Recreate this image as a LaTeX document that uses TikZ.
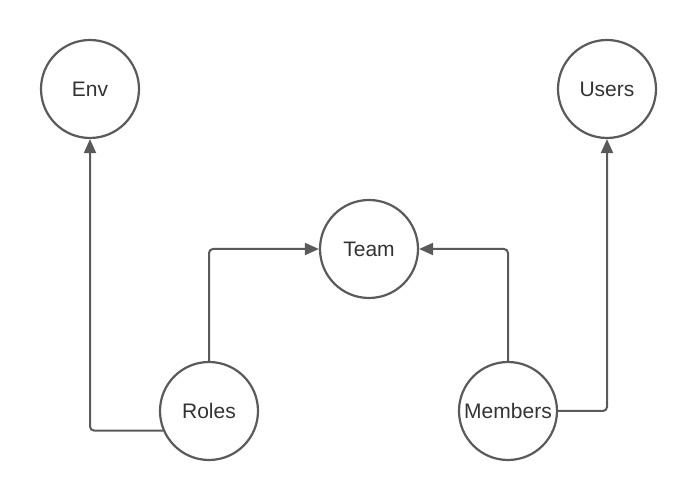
\documentclass[tikz,border=0pt]{standalone}
\usepackage{fontspec}
\setmainfont{Liberation Sans}
\usetikzlibrary{arrows.meta}
\definecolor{linegray}{HTML}{5A5A5A}
\definecolor{textgray}{HTML}{333333}
\begin{document}
\begin{tikzpicture}[x=1pt,y=1pt,
  ent/.style={circle,draw=linegray,line width=2.2pt,minimum size=98pt,inner sep=0pt,
    font=\fontsize{21}{24}\selectfont,text=textgray},
  conn/.style={draw=linegray,line width=2pt,rounded corners=4pt,
    -{Triangle[length=14pt,width=12pt]}}]
\useasboundingbox (0,0) rectangle (699,502);
\node[ent] (Env) at (90,413) {Env};
\node[ent] (Users) at (607,413) {Users};
\node[ent] (Team) at (369,253) {Team};
\node[ent] (Roles) at (209,91) {Roles};
\node[ent] (Members) at (508,91) {Members};
\draw[conn] (Roles.203.6) -| (Env.south);
\draw[conn] (Roles.north) |- (Team.west);
\draw[conn] (Members.north) |- (Team.east);
\draw[conn] (Members.east) -| (Users.south);
\end{tikzpicture}
\end{document}
